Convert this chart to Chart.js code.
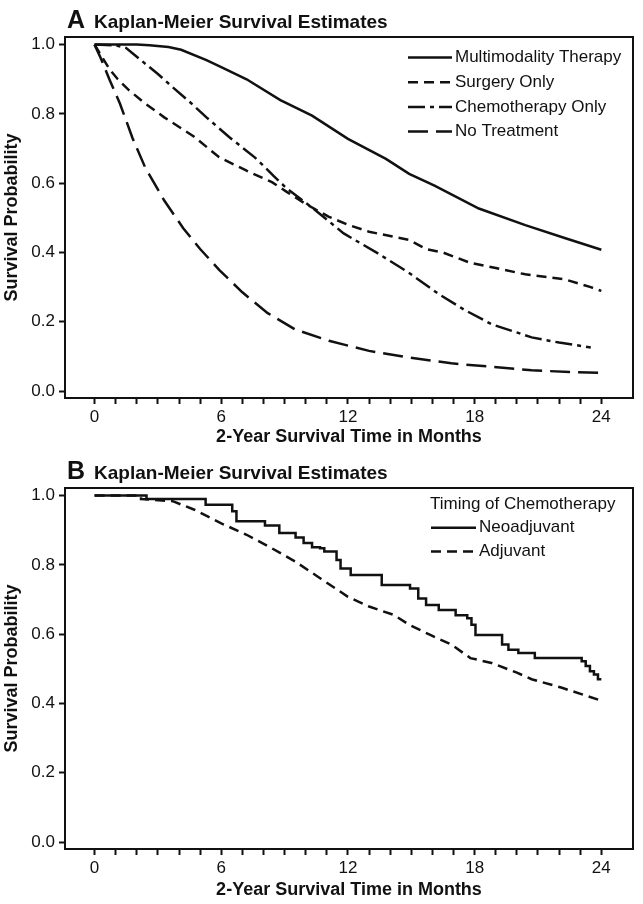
<!DOCTYPE html>
<html>
<head>
<meta charset="utf-8">
<title>Kaplan-Meier Survival Estimates</title>
<script src="https://cdn.jsdelivr.net/npm/chart.js@4.4.0/dist/chart.umd.min.js"></script>
<style>
  html, body { margin: 0; padding: 0; background: #fff; }
  body { width: 643px; height: 904px; position: relative; overflow: hidden; font-family: "Liberation Sans", Arial, sans-serif; color: #111; }
  .panel { position: absolute; left: 0; width: 643px; }
  .panel canvas { display: block; }
  .ptitle { position: absolute; left: 67px; top: 7px; font-size: 25px; line-height: 1; font-weight: bold; white-space: nowrap; }
  .ptitle span { font-size: 19px; margin-left: 9px; }
</style>
</head>
<body>

<div class="panel" id="panelA" style="top:0;height:451px">
  <canvas id="chartA" width="643" height="451"></canvas>
  <div class="ptitle">A<span>Kaplan-Meier Survival Estimates</span></div>
</div>

<div class="panel" id="panelB" style="top:451px;height:453px">
  <canvas id="chartB" width="643" height="453"></canvas>
  <div class="ptitle">B<span>Kaplan-Meier Survival Estimates</span></div>
</div>

<script>
// ---- data ----

// ticks
const monthTicks = [0, 1, 2, 3, 4, 5, 6, 7, 8, 9, 10, 11, 12, 13, 14, 15, 16, 17, 18, 19, 20, 21, 22, 23, 24]
const probTicks = [0, 0.2, 0.4, 0.6, 0.8, 1.0]

// panel A
const multiMonths = [0, 1, 2, 2.6, 3.5, 4.1, 5.3, 6, 7.2, 8.8, 10.3, 12, 13.8, 14.9, 16.1, 18.2, 20.4, 22.3, 24]
const multiSurv   = [1, 1, 1, 0.998, 0.993, 0.985, 0.955, 0.935, 0.9, 0.84, 0.795, 0.728, 0.67, 0.627, 0.593, 0.527, 0.479, 0.441, 0.408]

const surgMonths = [0, 0.3, 0.7, 1.1, 1.6, 2.4, 3.3, 4.7, 5.9, 7.2, 8.4, 9.1, 10, 11.1, 12, 13, 14.9, 15.7, 16.5, 17.8, 19, 20.4, 22.3, 23.5, 24]
const surgSurv   = [1, 0.97, 0.93, 0.9, 0.87, 0.83, 0.79, 0.735, 0.675, 0.636, 0.603, 0.575, 0.54, 0.503, 0.48, 0.46, 0.436, 0.41, 0.4, 0.37, 0.355, 0.337, 0.322, 0.3, 0.289]

const chemoMonths = [0, 1, 1.5, 2.2, 3, 3.7, 4.5, 5.3, 6.4, 7.6, 8.5, 9.1, 10.5, 11.8, 13.4, 14.9, 16.3, 17.5, 18.8, 20.7, 22, 23.5]
const chemoSurv   = [1, 0.998, 0.99, 0.955, 0.915, 0.877, 0.835, 0.79, 0.732, 0.674, 0.62, 0.585, 0.52, 0.455, 0.398, 0.341, 0.28, 0.235, 0.193, 0.155, 0.14, 0.126]

const noTxMonths = [0, 0.3, 0.7, 1.2, 1.8, 2.4, 3.3, 4.2, 5.0, 5.9, 7.0, 8.2, 9.5, 11.1, 13, 14.9, 16.9, 18.8, 20.7, 22.5, 24]
const noTxSurv   = [1, 0.96, 0.9, 0.83, 0.73, 0.645, 0.55, 0.47, 0.41, 0.35, 0.285, 0.225, 0.178, 0.145, 0.116, 0.097, 0.08, 0.07, 0.06, 0.055, 0.053]

// panel B (neoadjuvant is a step curve: time of drop, value after drop)
const neoMonths = [0, 2.46, 5.26, 6.52, 6.72, 8.07, 8.75, 9.52, 9.9, 10.3, 10.68, 10.88, 11.46, 11.65, 12.13, 13.6, 14.94, 15.33, 15.7, 16.3, 17.1, 17.65, 17.85, 18.04, 19.3, 19.6, 20.07, 20.85, 23.07, 23.26, 23.46, 23.65, 23.84, 24]
const neoSurv   = [1, 0.99, 0.974, 0.955, 0.926, 0.914, 0.892, 0.879, 0.863, 0.851, 0.848, 0.839, 0.814, 0.79, 0.771, 0.742, 0.732, 0.703, 0.684, 0.67, 0.655, 0.646, 0.627, 0.598, 0.57, 0.555, 0.546, 0.531, 0.522, 0.508, 0.493, 0.484, 0.47, 0.47]

const adjMonths = [0, 2.2, 2.2, 3.7, 4.7, 6.0, 7.2, 8.4, 9.5, 10.7, 12, 13, 14.2, 14.9, 15.9, 16.9, 17.8, 18.8, 20, 20.7, 22.1, 24]
const adjSurv   = [1, 1, 0.99, 0.984, 0.96, 0.92, 0.887, 0.848, 0.81, 0.761, 0.708, 0.68, 0.655, 0.627, 0.598, 0.57, 0.531, 0.517, 0.489, 0.47, 0.446, 0.408]

// ---- helpers ----
const ink = '#111'
const fontFam = '"Liberation Sans", Arial, Helvetica, sans-serif'
Chart.defaults.font.family = fontFam
Chart.defaults.color = ink

function pts(xs, ys) {
    return xs.map((x, i) => ({ x: x, y: ys[i] }))
}

function curve(label, xs, ys, dash, stepped) {
    return {
        label: label,
        data: pts(xs, ys),
        borderColor: ink,
        borderWidth: 2.5,
        borderDash: dash,
        pointRadius: 0,
        fill: false,
        tension: 0,
        stepped: stepped || false
    }
}

// frame around the plot area
const frame = {
    id: 'frame',
    afterDraw(chart) {
        const { ctx, chartArea: a } = chart
        ctx.save()
        ctx.strokeStyle = ink
        ctx.lineWidth = 2
        ctx.strokeRect(a.left, a.top, a.right - a.left, a.bottom - a.top)
        ctx.restore()
    }
}

// legend drawn inside the plot, line samples use the dataset styles
const insideLegend = {
    id: 'insideLegend',
    afterDraw(chart, args, opts) {
        const ctx = chart.ctx
        ctx.save()
        ctx.font = '17px ' + fontFam
        ctx.fillStyle = ink
        ctx.textBaseline = 'middle'
        let y = opts.y
        if (opts.header) {
            ctx.fillText(opts.header, opts.headerX, y)
            y += opts.step
        }
        chart.data.datasets.forEach(ds => {
            ctx.strokeStyle = ds.borderColor
            ctx.lineWidth = ds.borderWidth
            ctx.setLineDash(ds.borderDash || [])
            ctx.beginPath()
            ctx.moveTo(opts.x, y)
            ctx.lineTo(opts.x + opts.len, y)
            ctx.stroke()
            ctx.setLineDash([])
            ctx.fillText(ds.label, opts.x + opts.len + 3, y)
            y += opts.step
        })
        ctx.restore()
    }
}

function options(xAxisHeight, legend) {
    const tickFont = { size: 17 }
    const titleFont = { size: 18, weight: 'bold' }
    return {
        responsive: false,
        animation: false,
        devicePixelRatio: 1,
        layout: { padding: { top: 37, right: 10, left: 0, bottom: 0 } },
        plugins: {
            legend: { display: false },
            tooltip: { enabled: false },
            insideLegend: legend
        },
        scales: {
            x: {
                type: 'linear',
                min: -1.4,
                max: 25.5,
                afterBuildTicks: s => { s.ticks = monthTicks.map(v => ({ value: v })) },
                afterFit: s => { s.height = xAxisHeight },
                ticks: {
                    autoSkip: false,
                    maxRotation: 0,
                    padding: 3,
                    font: tickFont,
                    color: ink,
                    callback: v => (v % 6 === 0 ? String(v) : '')
                },
                grid: { drawOnChartArea: false, tickLength: 6, tickWidth: 2, tickColor: ink },
                border: { color: ink, width: 2 },
                title: {
                    display: true,
                    text: '2-Year Survival Time in Months',
                    font: titleFont,
                    color: ink,
                    padding: { top: 0, bottom: 3 }
                }
            },
            y: {
                min: -0.02,
                max: 1.022,
                afterBuildTicks: s => { s.ticks = probTicks.map(v => ({ value: v })) },
                afterFit: s => { s.width = 65 },
                ticks: {
                    padding: 4,
                    font: tickFont,
                    color: ink,
                    callback: v => v.toFixed(1)
                },
                grid: { drawOnChartArea: false, tickLength: 6, tickWidth: 2, tickColor: ink },
                border: { color: ink, width: 2 },
                title: {
                    display: true,
                    text: 'Survival Probability',
                    font: titleFont,
                    color: ink,
                    padding: { top: 1, bottom: 0 }
                }
            }
        }
    }
}

// ---- panel A ----
new Chart(document.getElementById('chartA'), {
    type: 'line',
    data: {
        datasets: [
            curve('Multimodality Therapy', multiMonths, multiSurv, []),
            curve('Surgery Only', surgMonths, surgSurv, [10, 6]),
            curve('Chemotherapy Only', chemoMonths, chemoSurv, [17, 5, 4, 5]),
            curve('No Treatment', noTxMonths, noTxSurv, [20, 8])
        ]
    },
    options: options(53, { x: 408, y: 57.5, step: 24.7, len: 44 }),
    plugins: [frame, insideLegend]
})

// ---- panel B ----
new Chart(document.getElementById('chartB'), {
    type: 'line',
    data: {
        datasets: [
            curve('Neoadjuvant', neoMonths, neoSurv, [], 'before'),
            curve('Adjuvant', adjMonths, adjSurv, [10, 6])
        ]
    },
    options: options(55, { header: 'Timing of Chemotherapy', headerX: 430, x: 431, y: 53, step: 23.7, len: 45 }),
    plugins: [frame, insideLegend]
})
</script>
</body>
</html>
